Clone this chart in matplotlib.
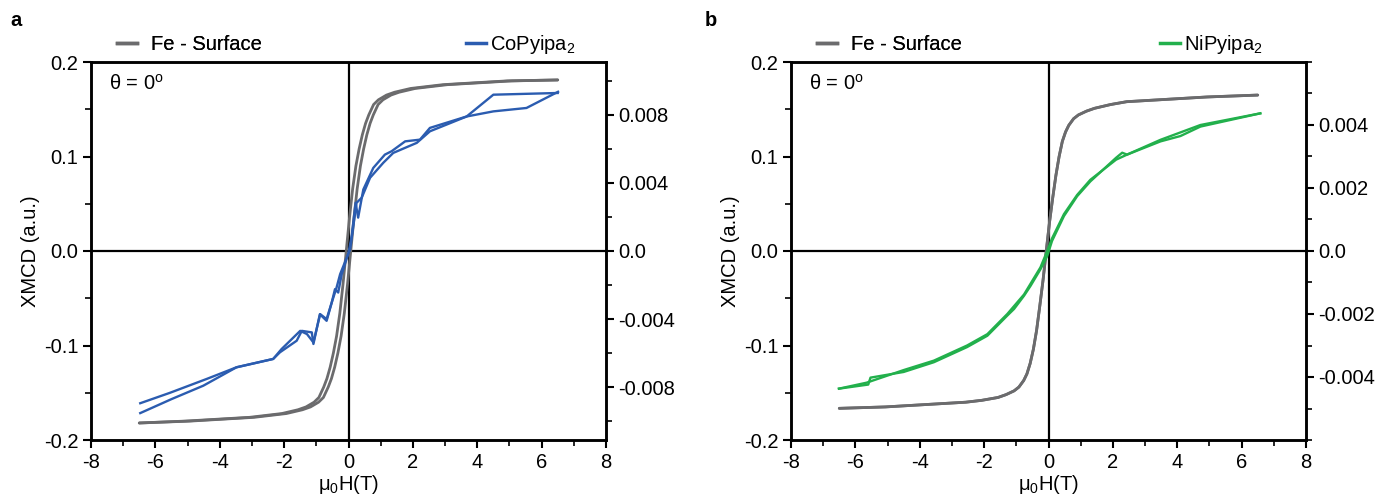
import matplotlib
matplotlib.use("Agg")
import matplotlib.pyplot as plt
from matplotlib.ticker import MultipleLocator, FixedLocator, FixedFormatter
from matplotlib.lines import Line2D

plt.rcParams['font.family'] = ['Liberation Sans', 'DejaVu Sans']
plt.rcParams['axes.unicode_minus'] = False
plt.rcParams['mathtext.fontset'] = 'custom'
plt.rcParams['mathtext.rm'] = 'Liberation Sans'
plt.rcParams['mathtext.it'] = 'Liberation Sans'

GRAY = '#6b6b6d'
BLUE = '#2b5cb0'
GREEN = '#22b04c'

# ---------------- Panel a: Fe surface loop (left axis) ----------------
fe_a_down_x = [6.5, 4.93, 3.93, 2.93, 1.93, 1.43, 1.18, 0.93, 0.78, 0.63, 0.53, 0.43, 0.33, 0.23, 0.13, 0.03, -0.07,
               -0.17, -0.27, -0.37, -0.47, -0.57, -0.67, -0.77, -0.92, -1.07, -1.32, -1.57, -2.07, -3.07, -4.07, -5.07, -6.5]
fe_a_down_y = [0.181, 0.180, 0.178, 0.176, 0.172, 0.168, 0.165, 0.160, 0.155, 0.144, 0.135, 0.123, 0.108, 0.090, 0.066, 0.035, 0.0,
               -0.035, -0.066, -0.090, -0.108, -0.123, -0.135, -0.144, -0.155, -0.160, -0.165, -0.168, -0.172, -0.176, -0.178, -0.180, -0.182]
fe_a_up_x = [-6.5, -4.93, -3.93, -2.93, -1.93, -1.43, -1.18, -0.93, -0.78, -0.63, -0.53, -0.43, -0.33, -0.23, -0.13, -0.03, 0.07,
             0.17, 0.27, 0.37, 0.47, 0.57, 0.67, 0.77, 0.92, 1.07, 1.32, 1.57, 2.07, 3.07, 4.07, 5.07, 6.5]
fe_a_up_y = [-0.182, -0.180, -0.178, -0.176, -0.172, -0.168, -0.165, -0.160, -0.155, -0.144, -0.135, -0.123, -0.108, -0.090, -0.066, -0.035, 0.0,
             0.035, 0.066, 0.090, 0.108, 0.123, 0.135, 0.144, 0.155, 0.160, 0.165, 0.168, 0.172, 0.176, 0.178, 0.180, 0.181]

# ---------------- Panel a: CoPyipa2 loop (right axis) ----------------
co_a_x = [6.5, 4.5, 3.67, 2.53, 2.22, 1.76, 1.34, 1.13, 0.77, 0.46, 0.30, 0.22, 0.10, 0.0, -0.21, -0.32, -0.42, -0.52, -0.68,
          -0.88, -1.09, -1.29, -1.50, -2.08, -2.34, -3.48, -4.40, -5.55, -6.47]
co_a_y = [0.00928, 0.00918, 0.00790, 0.00723, 0.00654, 0.00644, 0.00586, 0.00566, 0.00488, 0.00361, 0.00196, 0.00283, 0.00088,
          -0.00010, -0.00136, -0.00244, -0.00224, -0.00302, -0.00400, -0.00371, -0.00537, -0.00488, -0.00469, -0.00576, -0.00634,
          -0.00683, -0.00751, -0.00833, -0.00894]
co_b_x = [-6.47, -5.50, -4.51, -3.48, -2.34, -2.13, -1.61, -1.45, -1.14, -1.09, -0.89, -0.68, -0.52, -0.37, -0.26, 0.05, 0.25,
          0.41, 0.67, 1.08, 1.39, 1.76, 2.12, 2.53, 3.67, 4.50, 5.53, 6.51]
co_b_y = [-0.00952, -0.00870, -0.00791, -0.00683, -0.00634, -0.00595, -0.00527, -0.00469, -0.00478, -0.00546, -0.00371, -0.00410,
          -0.00302, -0.00214, -0.00136, 0.00010, 0.00283, 0.00313, 0.00430, 0.00518, 0.00576, 0.00606, 0.00635, 0.00703, 0.00790,
          0.00820, 0.00840, 0.00935]

# ---------------- Panel b: Fe surface loop (left axis) ----------------
fe_b_down_x = [6.5, 4.93, 3.93, 2.93, 2.43, 1.93, 1.43, 1.18, 0.93, 0.78, 0.63, 0.53, 0.43, 0.33, 0.23, 0.13, 0.03, -0.07,
               -0.17, -0.27, -0.37, -0.47, -0.57, -0.67, -0.77, -0.92, -1.07, -1.32, -1.57, -2.07, -2.57, -3.07, -4.07, -5.07, -6.5]
fe_b_down_y = [0.165, 0.163, 0.161, 0.159, 0.158, 0.155, 0.151, 0.148, 0.144, 0.140, 0.133, 0.126, 0.116, 0.100, 0.080, 0.056, 0.030, 0.0,
               -0.031, -0.058, -0.084, -0.104, -0.119, -0.130, -0.137, -0.144, -0.148, -0.152, -0.155, -0.158, -0.160, -0.161, -0.163, -0.165, -0.1665]
fe_b_up_x = [-6.5, -5.07, -4.07, -3.07, -2.57, -2.07, -1.57, -1.32, -1.07, -0.92, -0.77, -0.67, -0.57, -0.47, -0.37, -0.27, -0.17,
             -0.07, 0.03, 0.13, 0.23, 0.33, 0.43, 0.53, 0.63, 0.78, 0.93, 1.18, 1.43, 1.93, 2.43, 2.93, 3.93, 4.93, 6.5]
fe_b_up_y = [-0.1665, -0.165, -0.163, -0.161, -0.160, -0.158, -0.155, -0.152, -0.148, -0.144, -0.137, -0.130, -0.119, -0.104, -0.084,
             -0.058, -0.031, 0.0, 0.030, 0.056, 0.080, 0.100, 0.116, 0.126, 0.133, 0.140, 0.144, 0.148, 0.151, 0.155, 0.158, 0.159,
             0.161, 0.163, 0.165]

# ---------------- Panel b: NiPyipa2 loop (right axis) ----------------
ni_a_x = [6.58, 4.72, 3.48, 2.44, 2.29, 2.10, 1.30, 0.89, 0.48, 0.11, -0.04, -0.25, -0.56, -0.76, -1.07, -1.28, -1.90, -2.53,
          -3.56, -4.50, -5.53, -5.60, -6.51]
ni_a_y = [0.00437, 0.00400, 0.00353, 0.00306, 0.00312, 0.00296, 0.00221, 0.00174, 0.00111, 0.00032, -0.00016, -0.00058, -0.00111,
          -0.00142, -0.00184, -0.00205, -0.00269, -0.00305, -0.00353, -0.00384, -0.00402, -0.00424, -0.00437]
ni_b_x = [-6.51, -5.65, -4.50, -3.56, -2.53, -1.90, -1.28, -0.76, -0.25, -0.04, 0.11, 0.48, 0.89, 1.30, 2.10, 2.44, 3.48, 4.10,
          4.72, 6.58]
ni_b_y = [-0.00437, -0.00418, -0.00378, -0.00348, -0.00300, -0.00264, -0.00200, -0.00138, -0.00052, 0.00000, 0.00040, 0.00117,
          0.00178, 0.00226, 0.00290, 0.00306, 0.00348, 0.00365, 0.00395, 0.00437]

x_ticks = [-8, -6, -4, -2, 0, 2, 4, 6, 8]
left_ticks = [-0.2, -0.1, 0.0, 0.1, 0.2]
left_labels = ['-0.2', '-0.1', '0.0', '0.1', '0.2']
right_ticks_a = [-0.008, -0.004, 0.0, 0.004, 0.008]
right_labels_a = ['-0.008', '-0.004', '0.0', '0.004', '0.008']
right_ticks_b = [-0.004, -0.002, 0.0, 0.002, 0.004]
right_labels_b = ['-0.004', '-0.002', '0.0', '0.002', '0.004']

FS = 14.5
fig = plt.figure(figsize=(13.75, 4.97), dpi=100)


def make_panel(left, rlim, rticks, rlabels, rminor, fe_sets, mol_sets, mol_color, mol_label,
               letter, letter_x, leg2_x):
    ax = fig.add_axes([left, 1 - 440/497, 515/1375, 378/497])
    for xs, ys in fe_sets:
        ax.plot(xs, ys, color=GRAY, lw=2.0, solid_capstyle='round', zorder=3)
    ax.set_xlim(-8, 8)
    ax.set_ylim(-0.2, 0.2)
    ax.axhline(0, color='black', lw=1.6, zorder=1)
    ax.axvline(0, color='black', lw=1.6, zorder=1)
    ax.xaxis.set_major_locator(FixedLocator(x_ticks))
    ax.xaxis.set_minor_locator(MultipleLocator(1))
    ax.yaxis.set_major_locator(FixedLocator(left_ticks))
    ax.yaxis.set_major_formatter(FixedFormatter(left_labels))
    ax.yaxis.set_minor_locator(MultipleLocator(0.05))
    ax.tick_params(axis='both', which='major', direction='out', length=6, width=1.5, labelsize=FS, pad=3)
    ax.tick_params(axis='both', which='minor', direction='out', length=4, width=1.2)
    ax.tick_params(axis='x', which='both', top=False)
    ax.tick_params(axis='y', which='both', right=False)
    for s in ax.spines.values():
        s.set_linewidth(1.8)
    ax.set_xticklabels([str(t) for t in x_ticks])
    ax.set_ylabel('XMCD (a.u.)', fontsize=FS, labelpad=3)
    ax.set_xlabel(r'$\mathregular{\mu_0}$H(T)', fontsize=FS, labelpad=1)
    ax.text(0.035, 0.97, r'$\mathregular{\theta}$ = 0$\mathregular{^o}$', transform=ax.transAxes,
            fontsize=FS, va='top', ha='left')

    ax2 = ax.twinx()
    for xs, ys in mol_sets:
        ax2.plot(xs, ys, color=mol_color, lw=1.7, zorder=4)
    ax2.set_ylim(-rlim, rlim)
    ax2.yaxis.set_major_locator(FixedLocator(rticks))
    ax2.yaxis.set_major_formatter(FixedFormatter(rlabels))
    ax2.yaxis.set_minor_locator(MultipleLocator(rminor))
    ax2.tick_params(axis='y', which='major', direction='out', length=6, width=1.5, labelsize=FS, pad=3)
    ax2.tick_params(axis='y', which='minor', direction='out', length=4, width=1.2)
    for s in ax2.spines.values():
        s.set_linewidth(1.8)

    h1 = Line2D([], [], color=GRAY, lw=2.5)
    h2 = Line2D([], [], color=mol_color, lw=2.5)
    leg1 = ax.legend([h1], ['Fe - Surface'], loc='lower left', bbox_to_anchor=(0.03, 0.995),
                     frameon=False, fontsize=FS, handlelength=1.0, handletextpad=0.7, borderaxespad=0.1)
    ax.add_artist(leg1)
    ax2.legend([h2], [mol_label], loc='lower right', bbox_to_anchor=(leg2_x, 0.99),
               frameon=False, fontsize=FS, handlelength=1.0, handletextpad=0.2, borderaxespad=0.1)
    fig.text(letter_x, 1 - 20/497, letter, fontsize=FS, fontweight='bold', va='center', ha='left')
    return ax, ax2


make_panel(91/1375, 0.0111, right_ticks_a, right_labels_a, 0.002,
           [(fe_a_down_x, fe_a_down_y), (fe_a_up_x, fe_a_up_y)],
           [(co_a_x, co_a_y), (co_b_x, co_b_y)], BLUE, r'CoPyipa$\mathregular{_2}$', 'a', 10/1375, 0.96)
make_panel(791/1375, 0.006, right_ticks_b, right_labels_b, 0.001,
           [(fe_b_down_x, fe_b_down_y), (fe_b_up_x, fe_b_up_y)],
           [(ni_a_x, ni_a_y), (ni_b_x, ni_b_y)], GREEN, r'NiPyipa$\mathregular{_2}$', 'b', 705/1375, 0.935)

fig.savefig('out.png', dpi=100)
